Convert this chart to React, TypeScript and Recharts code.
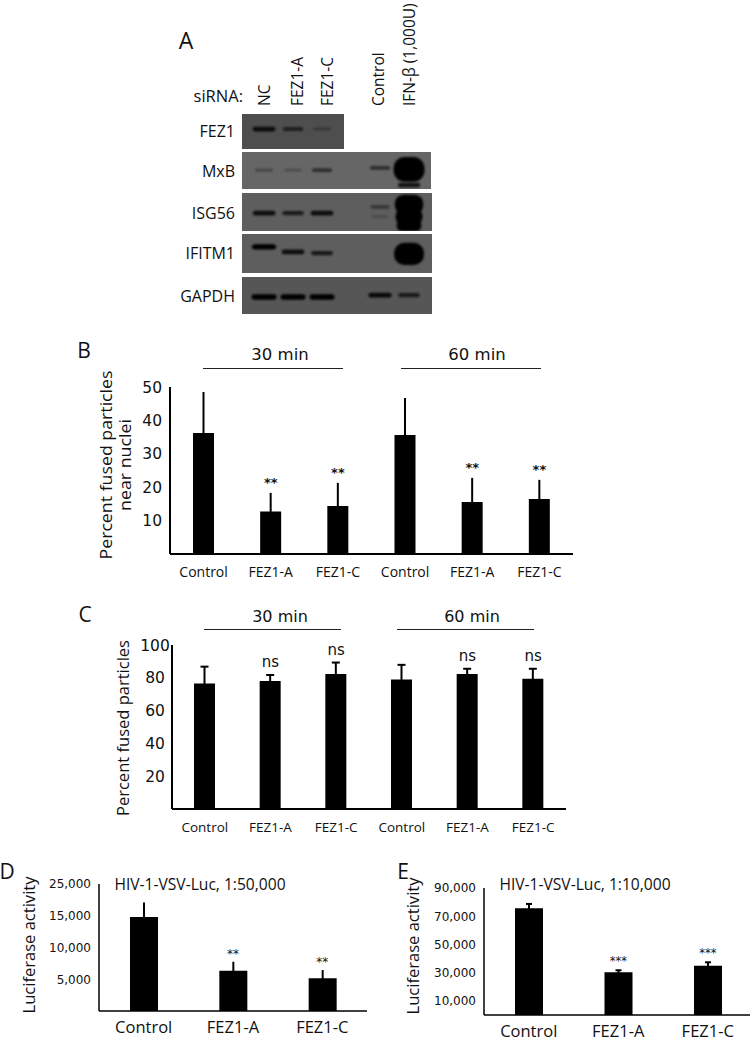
import {
  Bar,
  ComposedChart,
  ErrorBar,
  LabelList,
  Line,
  Scatter,
  ScatterChart,
  XAxis,
  YAxis,
} from "recharts";

const SANS = '"Open Sans", sans-serif';
const WIDE = '"DejaVu Sans", sans-serif';

// panel A: band strength per lane, and how far down the strip the band ran (%)
const laneNames = ["NC", "FEZ1-A", "FEZ1-C", "Control", "IFN-β (1,000U)"];
const lanes = [0, 1, 2, 4, 5];
const fez1Signal = [0.75, 0.5, 0.2, 0, 0];
const fez1Level = [43, 43, 43, 43, 43];
const mxbSignal = [0.2, 0.15, 0.45, 0.45, 3.1];
const mxbLevel = [49, 49, 49, 43, 47];
const mxbLowerSignal = [0, 0, 0, 0, 0.7];
const mxbLowerLevel = [89, 89, 89, 89, 89];
const isgSignal = [0.75, 0.6, 0.75, 0.35, 2.4];
const isgLevel = [53, 53, 53, 37, 30];
const isgLowerSignal = [0, 0, 0, 0, 2];
const isgLowerLevel = [62, 62, 62, 62, 62];
const isgSmearSignal = [0, 0, 0, 0.1, 1.3];
const isgSmearLevel = [86, 86, 86, 62, 86];
const ifitmSignal = [0.9, 0.75, 0.65, 0, 2.8];
const ifitmLevel = [33, 46, 49, 49, 51];
const gapdhSignal = [1, 1, 1, 0.8, 0.6];
const gapdhLevel = [54, 54, 54, 49, 49];

// panels B and C
const siRnaGroups = ["Control", "FEZ1-A", "FEZ1-C", "Control", "FEZ1-A", "FEZ1-C"];
const nearNuclei = [36.2, 12.7, 14.4, 35.6, 15.6, 16.5];
const nearNucleiErr = [12.3, 5.6, 6.9, 11.1, 7.2, 5.7];
const nearNucleiSig = ["", "**", "**", "", "**", "**"];
const fused = [76.6, 78, 82.3, 79, 82.3, 79.4];
const fusedErr = [10.2, 3.7, 7, 8.9, 3.2, 6.1];
const fusedSig = ["", "ns", "ns", "", "ns", "ns"];

// panels D and E
const lucGroups = ["Control", "FEZ1-A", "FEZ1-C"];
const luc50k = [14800, 6350, 5150];
const luc50kErr = [2300, 1410, 1300];
const luc50kSig = ["", "**", "**"];
const luc10k = [75600, 30250, 34950];
const luc10kErr = [3100, 1450, 2400];
const luc10kSig = ["", "***", "***"];

const nearNucleiTicks = [10, 20, 30, 40, 50];
const fusedTicks = [20, 40, 60, 80, 100];
const luc50kTicks = [5000, 10000, 15000, 20000];
const luc50kTickLabels = ["5,000", "10,000", "15,000", "25,000"];
const luc10kTicks = [10000, 30000, 50000, 70000, 90000];
const luc10kTickLabels = ["10,000", "30,000", "50,000", "70,000", "90,000"];

function toBands(signal: number[], level: number[]) {
  return lanes
    .map((lane, i) => ({ lane, signal: signal[i], level: level[i] }))
    .filter((b) => b.signal > 0);
}

function toRows(names: string[], values: number[], errs: number[], sig: string[]) {
  return names.map((name, i) => ({
    name,
    value: values[i],
    err: errs[i],
    top: values[i] + errs[i],
    sig: sig[i],
  }));
}

function BandShape(props: any) {
  const s = props.signal ?? props.payload?.signal ?? 0;
  const w = s > 1 ? 20 + s * 3.5 : 16 + 9 * s;
  const h = s > 1 ? s * 8 : 2.5 + 3 * s;
  return (
    <rect
      x={props.cx - w / 2}
      y={props.cy - h / 2}
      width={w}
      height={h}
      rx={s > 1 ? h / 2.2 : h / 2}
      fill="#000"
      opacity={Math.min(1, 0.1 + s)}
      style={{ filter: "blur(0.9px)" }}
    />
  );
}

function BlotStrip({ left, top, width, height, bg, bands }: any) {
  return (
    <div style={{ position: "absolute", left, top, width, height, background: bg, overflow: "hidden" }}>
      <ScatterChart width={width} height={height} margin={{ top: 0, right: 0, bottom: 0, left: 0 }}>
        <XAxis type="number" dataKey="lane" domain={[-0.76, -0.76 + width / 29]} hide />
        <YAxis type="number" dataKey="level" domain={[0, 100]} reversed hide />
        <Scatter data={bands} shape={BandShape} isAnimationActive={false} />
      </ScatterChart>
    </div>
  );
}

interface PanelProps {
  rows: ReturnType<typeof toRows>;
  axisX: number;
  right: number;
  top: number;
  bottom: number;
  domain: number[];
  ticks: number[];
  tickLabels?: string[];
  tickSize: number;
  tickGap: number;
  tickAnchor?: "end" | "middle";
  xSize: number;
  xMargin: number;
  xHeight?: number;
  barSize: number;
  cap: number;
  sigSize: number;
  sigWeight?: string;
  sigOffset: number;
  axisWidth?: number;
}

function BarPanel(p: PanelProps) {
  const yW = 70;
  const xH = p.xHeight ?? 34;
  const pad = 14;
  const anchor = p.tickAnchor ?? "end";
  const renderTick = (t: any) => {
    const i = p.ticks.indexOf(t.payload.value);
    const text = p.tickLabels ? p.tickLabels[i] : String(t.payload.value);
    return (
      <text
        x={yW - p.tickGap}
        y={t.y}
        dy="0.36em"
        textAnchor={anchor}
        fontFamily={WIDE}
        fontSize={p.tickSize}
        fill="#111"
      >
        {text}
      </text>
    );
  };
  return (
    <div style={{ position: "absolute", left: p.axisX - yW, top: p.top - pad }}>
      <ComposedChart
        width={p.right - p.axisX + yW}
        height={p.bottom - p.top + pad + xH}
        data={p.rows}
        margin={{ top: pad, right: 0, bottom: 0, left: 0 }}
      >
        <XAxis
          dataKey="name"
          height={xH}
          interval={0}
          tickLine={false}
          tickMargin={p.xMargin}
          axisLine={{ stroke: "#000", strokeWidth: p.axisWidth ?? 2 }}
          tick={{ fontFamily: SANS, fontSize: p.xSize, fill: "#111" }}
        />
        <YAxis
          width={yW}
          domain={p.domain}
          ticks={p.ticks}
          interval={0}
          tickLine={false}
          axisLine={{ stroke: "#000", strokeWidth: p.axisWidth ?? 2 }}
          tick={renderTick}
        />
        <Bar dataKey="value" barSize={p.barSize} fill="#000" isAnimationActive={false}>
          <ErrorBar dataKey="err" direction="y" width={p.cap} strokeWidth={2} stroke="#000" isAnimationActive={false} />
        </Bar>
        <Line dataKey="top" stroke="none" dot={false} activeDot={false} legendType="none" isAnimationActive={false}>
          <LabelList
            dataKey="sig"
            position="top"
            offset={p.sigOffset}
            fontFamily={WIDE}
            fontSize={p.sigSize}
            fontWeight={p.sigWeight ?? "normal"}
            fill="#111"
          />
        </Line>
      </ComposedChart>
    </div>
  );
}

function Txt({ x, y, size = 14, font = SANS, rotate, anchor = "middle", fit, children }: any) {
  return (
    <text
      x={x}
      y={y}
      dy="0.36em"
      fontFamily={font}
      fontSize={size}
      fill="#111"
      textAnchor={anchor}
      textLength={fit}
      lengthAdjust={fit ? "spacingAndGlyphs" : undefined}
      transform={rotate ? `rotate(-90 ${x} ${y})` : undefined}
    >
      {children}
    </text>
  );
}

function GroupMark({ x1, x2, y, textX, textY, label, size }: any) {
  return (
    <>
      <line x1={x1} x2={x2} y1={y + 0.5} y2={y + 0.5} stroke="#222" strokeWidth={1} />
      <Txt x={textX} y={textY} font={WIDE} size={size}>
        {label}
      </Txt>
    </>
  );
}

const laneLabelX = [264, 297, 327, 378, 409];
const rowLabels = [
  ["FEZ1", 131],
  ["MxB", 171],
  ["ISG56", 213],
  ["IFITM1", 253],
  ["GAPDH", 296],
] as const;

export default function App() {
  return (
    <div
      style={{
        position: "absolute",
        left: 0,
        top: 0,
        width: 750,
        height: 1037,
        background: "#fff",
        overflow: "hidden",
      }}
    >
      <BlotStrip left={242} top={114} width={102} height={35} bg="#4e4e4e" bands={toBands(fez1Signal, fez1Level)} />
      <BlotStrip
        left={242}
        top={152}
        width={189}
        height={37}
        bg="#666666"
        bands={[...toBands(mxbSignal, mxbLevel), ...toBands(mxbLowerSignal, mxbLowerLevel)]}
      />
      <BlotStrip
        left={242}
        top={193}
        width={190}
        height={38}
        bg="#5e5e5e"
        bands={[
          ...toBands(isgSignal, isgLevel),
          ...toBands(isgLowerSignal, isgLowerLevel),
          ...toBands(isgSmearSignal, isgSmearLevel),
        ]}
      />
      <BlotStrip left={242} top={234} width={190} height={39} bg="#5e5e5e" bands={toBands(ifitmSignal, ifitmLevel)} />
      <BlotStrip left={242} top={277} width={190} height={37} bg="#565656" bands={toBands(gapdhSignal, gapdhLevel)} />

      <BarPanel
        rows={toRows(siRnaGroups, nearNuclei, nearNucleiErr, nearNucleiSig)}
        axisX={170}
        right={573}
        top={387}
        bottom={554}
        domain={[0, 50]}
        ticks={nearNucleiTicks}
        tickSize={15.5}
        tickGap={8}
        xSize={14}
        xMargin={7}
        barSize={21}
        cap={0}
        sigSize={13}
        sigWeight="bold"
        sigOffset={6}
      />
      <BarPanel
        rows={toRows(siRnaGroups, fused, fusedErr, fusedSig)}
        axisX={172}
        right={566}
        top={645}
        bottom={809}
        domain={[0, 100]}
        ticks={fusedTicks}
        tickSize={15.5}
        tickGap={17}
        tickAnchor="middle"
        xSize={13.5}
        xMargin={7}
        barSize={21}
        cap={4}
        sigSize={15}
        sigOffset={8}
      />
      <BarPanel
        rows={toRows(lucGroups, luc50k, luc50kErr, luc50kSig)}
        axisX={99}
        right={367}
        top={884}
        bottom={1011}
        domain={[0, 20000]}
        ticks={luc50kTicks}
        tickLabels={luc50kTickLabels}
        tickSize={12}
        tickGap={8}
        xSize={16.5}
        xMargin={4}
        xHeight={26}
        barSize={28}
        cap={0}
        sigSize={12}
        sigOffset={4}
        axisWidth={1.5}
      />
      <BarPanel
        rows={toRows(lucGroups, luc10k, luc10kErr, luc10kSig)}
        axisX={484}
        right={752.5}
        top={888}
        bottom={1015}
        domain={[0, 90000]}
        ticks={luc10kTicks}
        tickLabels={luc10kTickLabels}
        tickSize={12}
        tickGap={8}
        xSize={16.5}
        xMargin={4}
        xHeight={22}
        barSize={28}
        cap={3}
        sigSize={11.5}
        sigOffset={5}
        axisWidth={1.5}
      />

      <svg
        width={750}
        height={1037}
        style={{ position: "absolute", left: 0, top: 0, pointerEvents: "none" }}
      >
        <Txt x={186} y={41} size={23}>A</Txt>
        <Txt x={84} y={350} size={21}>B</Txt>
        <Txt x={85} y={614} size={21}>C</Txt>
        <Txt x={7} y={871} size={21}>D</Txt>
        <Txt x={403} y={871} size={21}>E</Txt>

        <Txt x={243} y={96} size={16.5} anchor="end">siRNA:</Txt>
        {laneNames.map((name, i) => (
          <Txt key={name} x={laneLabelX[i]} y={106} size={15.5} anchor="start" rotate>
            {name}
          </Txt>
        ))}
        {rowLabels.map(([name, y]) => (
          <Txt key={name} x={235} y={y} size={16} anchor="end">
            {name}
          </Txt>
        ))}

        <GroupMark x1={203} x2={343} y={368} textX={280} textY={354} label="30 min" size={16.5} />
        <GroupMark x1={401} x2={541} y={368} textX={477} textY={354} label="60 min" size={16.5} />
        <GroupMark x1={204} x2={341} y={629} textX={280} textY={616} label="30 min" size={16} />
        <GroupMark x1={397} x2={534} y={629} textX={472} textY={616} label="60 min" size={16} />

        <Txt x={106} y={465} size={15.5} fit={189} rotate>Percent fused particles</Txt>
        <Txt x={125} y={465} size={15.5} fit={92} rotate>near nuclei</Txt>
        <Txt x={123} y={728} size={15.5} fit={176} rotate>Percent fused particles</Txt>
        <Txt x={29} y={945} size={16} fit={137} rotate>Luciferase activity</Txt>
        <Txt x={413} y={946} size={16} fit={137} rotate>Luciferase activity</Txt>

        <Txt x={200} y={884} size={15.6}>HIV-1-VSV-Luc, 1:50,000</Txt>
        <Txt x={585} y={884} size={15.6}>HIV-1-VSV-Luc, 1:10,000</Txt>
      </svg>
    </div>
  );
}
